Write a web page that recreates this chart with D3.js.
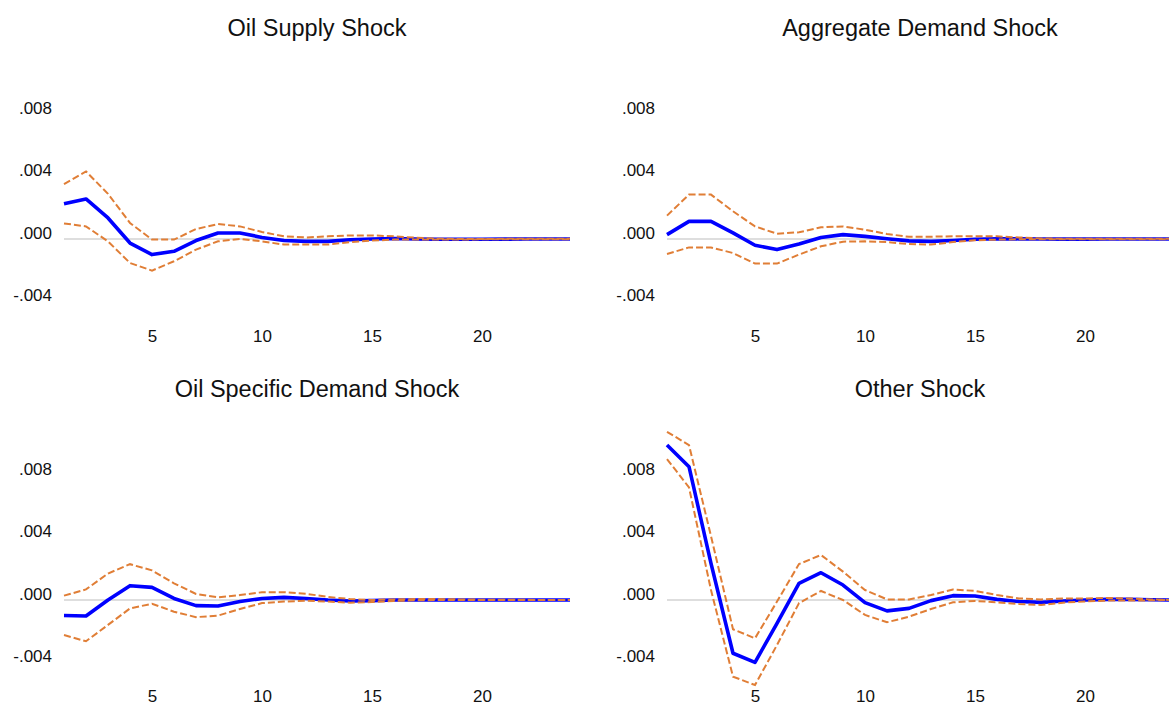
<!DOCTYPE html>
<html>
<head>
<meta charset="utf-8">
<script src="https://cdn.jsdelivr.net/npm/d3@7"></script>
<style>
  html, body { margin: 0; padding: 0; background: #fff; }
  svg { display: block; font-family: "Liberation Sans", Arial, sans-serif; }
</style>
</head>
<body>
<svg id="chart" width="1169" height="706"></svg>
<script>
// ---------- data ----------
const periods = [1,2,3,4,5,6,7,8,9,10,11,12,13,14,15,16,17,18,19,20,21,22,23,24];
const xTicks = [5, 10, 15, 20];
const yTicks = [-0.004, 0, 0.004, 0.008];
const yTickLabels = ["-.004", ".000", ".004", ".008"];
const titles = ["Oil Supply Shock", "Aggregate Demand Shock", "Oil Specific Demand Shock", "Other Shock"];

const oilSupplyResp  = [0.00227, 0.00257, 0.00135, -0.00026, -0.0010, -0.00079, -0.0001, 0.00039, 0.00039, 0.0001, -0.0001, -0.00015, -0.00015, -0.00005, 0.0, 0.00003, 0.0, -0.00002, -0.00002, -0.00002, -0.00001, 0, 0, 0];
const oilSupplyUpper = [0.00353, 0.00434, 0.0029, 0.00103, -0.00004, -0.00004, 0.00064, 0.00096, 0.00081, 0.00045, 0.00017, 0.0001, 0.00017, 0.00023, 0.00023, 0.00017, 0.00008, 0.00002, 0.0, 0.0, 0.00001, 0.00001, 0.00001, 0.00001];
const oilSupplyLower = [0.001, 0.00081, -0.00015, -0.00154, -0.00203, -0.00143, -0.00068, -0.00015, 0.0, -0.00015, -0.00036, -0.00035, -0.00036, -0.0002, -0.0001, -0.00004, -0.00003, -0.00003, -0.00003, -0.00002, -0.00002, -0.00001, -0.00001, -0.00001];

const aggDemandResp  = [0.00028, 0.00113, 0.00113, 0.00039, -0.0004, -0.00068, -0.00032, 0.0001, 0.00028, 0.00017, 0.00002, -0.00012, -0.00015, -0.0001, -0.00002, 0.00002, 0.00001, 0, -0.00001, -0.00001, 0, 0, 0, 0];
const aggDemandUpper = [0.0015, 0.00285, 0.00285, 0.00178, 0.00081, 0.00034, 0.00043, 0.00075, 0.00081, 0.0006, 0.00032, 0.00014, 0.00015, 0.00017, 0.00017, 0.00017, 0.0001, 0.00004, 0.00001, 0.00001, 0.00001, 0.00001, 0.00001, 0.00001];
const aggDemandLower = [-0.00096, -0.00054, -0.00054, -0.0009, -0.00158, -0.00158, -0.001, -0.00047, -0.00017, -0.00015, -0.0002, -0.00032, -0.00036, -0.0002, -0.00008, -0.00004, -0.00002, -0.00002, -0.00002, -0.00001, -0.00001, -0.00001, -0.00001, -0.00001];

const oilSpecResp  = [-0.001, -0.00103, 0.0, 0.00092, 0.00081, 0.0001, -0.00036, -0.00039, -0.0001, 0.0001, 0.00017, 0.0001, 0.0, -0.00006, -0.00004, 0.0, 0.0, 0.0, 0, 0, 0, 0, 0, 0];
const oilSpecUpper = [0.00028, 0.00068, 0.0017, 0.0023, 0.0019, 0.00107, 0.00039, 0.00017, 0.00032, 0.0005, 0.0005, 0.0004, 0.0002, 0.00006, 0.0, 0.00004, 0.00006, 0.00006, 0.00004, 0.00002, 0.00001, 0.00001, 0, 0];
const oilSpecLower = [-0.00225, -0.00265, -0.0016, -0.00054, -0.00024, -0.00075, -0.0011, -0.001, -0.00058, -0.0002, -0.0001, -0.00005, -0.0001, -0.00017, -0.00013, -0.00006, -0.00002, 0, 0, 0, 0, 0, 0, 0];

const otherResp  = [0.00995, 0.00856, 0.00235, -0.00342, -0.004, -0.0015, 0.00107, 0.00175, 0.00096, -0.00017, -0.0007, -0.00054, -0.00004, 0.00028, 0.00026, 0.00004, -0.0001, -0.00015, -0.00006, 0, 0.00004, 0.00004, 0.00002, 0];
const otherUpper = [0.0108, 0.00995, 0.0041, -0.00188, -0.00246, -0.0001, 0.00231, 0.00289, 0.00182, 0.00064, 0.00004, 0.00004, 0.00032, 0.00068, 0.00058, 0.00032, 0.0001, 0.00004, 0.00009, 0.0001, 0.00013, 0.0001, 0.00004, 0];
const otherLower = [0.00905, 0.00723, 0.00064, -0.00492, -0.00546, -0.00289, -0.0002, 0.00058, 0.0, -0.00096, -0.00143, -0.00107, -0.00058, -0.00015, -0.00006, -0.00015, -0.00026, -0.00032, -0.00017, -0.00009, -0.00004, -0.00004, -0.00002, 0];

// ---------- layout ----------
const panels = [
  { title: titles[0], resp: oilSupplyResp, upper: oilSupplyUpper, lower: oilSupplyLower, col: 0, row: 0 },
  { title: titles[1], resp: aggDemandResp, upper: aggDemandUpper, lower: aggDemandLower, col: 1, row: 0 },
  { title: titles[2], resp: oilSpecResp,   upper: oilSpecUpper,   lower: oilSpecLower,   col: 0, row: 1 },
  { title: titles[3], resp: otherResp,     upper: otherUpper,     lower: otherLower,     col: 1, row: 1 }
];

const svg = d3.select("#chart");
const colDX = 603, rowDY = 361;
const pxPerUnit = 15575;

panels.forEach(p => {
  const ox = p.col * colDX, oy = p.row * rowDY;
  const x = d3.scaleLinear().domain([1, 24]).range([64 + ox, 570 + ox]);
  const zeroY = 239 + oy;
  const y = d3.scaleLinear().domain([0, 0.008]).range([zeroY, zeroY - 0.008 * pxPerUnit]);
  const g = svg.append("g");

  // title
  g.append("text")
    .attr("x", (x.range()[0] + x.range()[1]) / 2)
    .attr("y", 36 + oy)
    .attr("text-anchor", "middle")
    .attr("font-size", 23.5)
    .attr("fill", "#111")
    .text(p.title);

  // y axis labels (no axis line)
  const yAxis = d3.axisLeft(y).tickValues(yTicks)
    .tickFormat((d, i) => yTickLabels[i]).tickSize(0).tickPadding(0);
  const ya = g.append("g").attr("transform", `translate(${52 + ox},0)`).call(yAxis);
  ya.select(".domain").remove();
  ya.selectAll("text").attr("font-size", 17).attr("font-family", "Liberation Sans, Arial, sans-serif")
    .attr("fill", "#111").attr("dy", "-0.05em");

  // x axis labels
  const xAxis = d3.axisBottom(x).tickValues(xTicks).tickSize(0).tickPadding(0);
  const xa = g.append("g").attr("transform", `translate(0,${330 + oy - p.row * 1.5})`).call(xAxis);
  xa.select(".domain").remove();
  xa.selectAll("text").attr("font-size", 17).attr("font-family", "Liberation Sans, Arial, sans-serif")
    .attr("fill", "#111").attr("dy", "0.71em");

  // zero line
  g.append("line")
    .attr("x1", x(1)).attr("x2", x(24))
    .attr("y1", y(0)).attr("y2", y(0))
    .attr("stroke", "#bdbdbd").attr("stroke-width", 1);

  const line = d3.line().x((d, i) => x(periods[i])).y(d => y(d));

  g.append("path").datum(p.resp).attr("d", line)
    .attr("fill", "none").attr("stroke", "#0000ff").attr("stroke-width", 3.6)
    .attr("stroke-linejoin", "round");

  [p.upper, p.lower].forEach(band => {
    g.append("path").datum(band).attr("d", line)
      .attr("fill", "none").attr("stroke", "#e07e36").attr("stroke-width", 2)
      .attr("stroke-dasharray", "7,3");
  });
});
</script>
</body>
</html>
